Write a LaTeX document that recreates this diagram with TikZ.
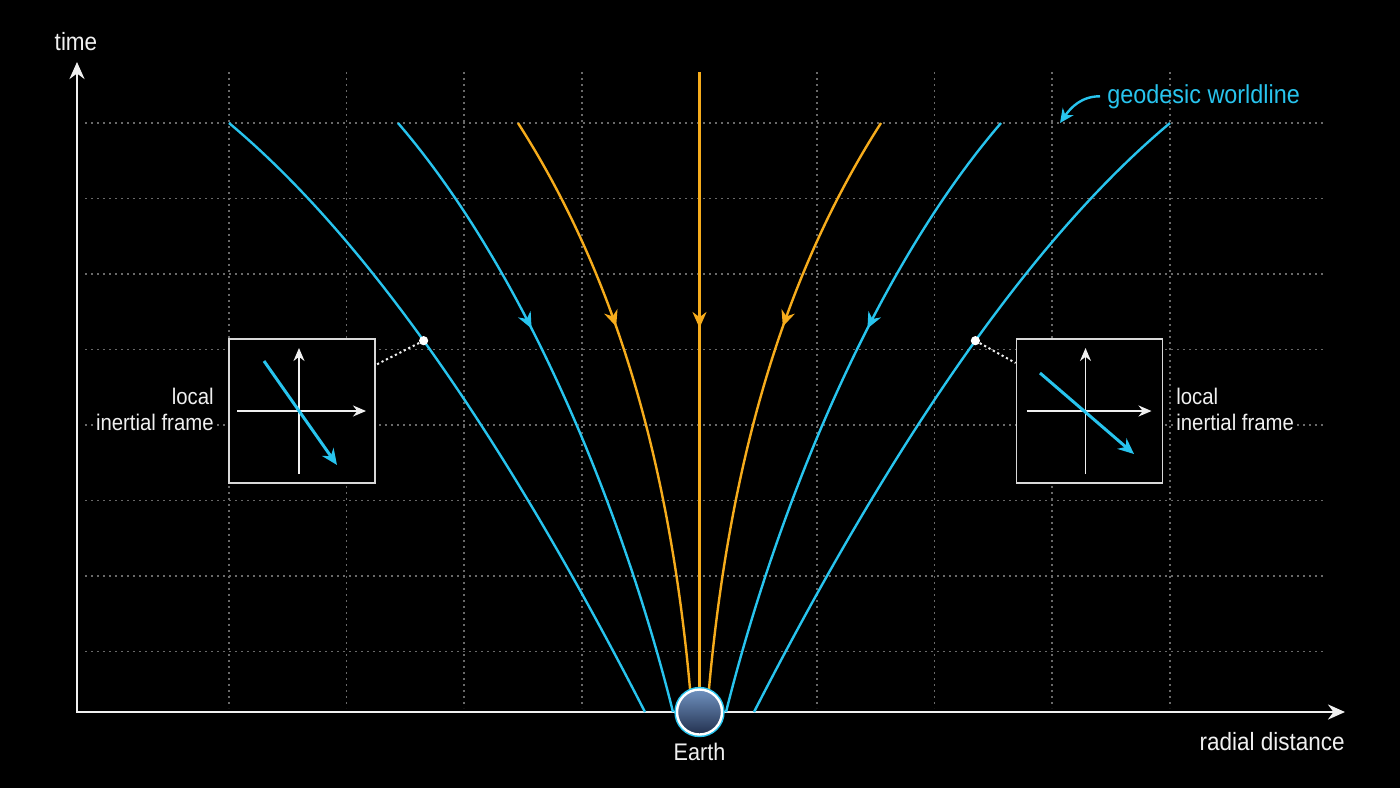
\documentclass[tikz,border=0pt]{standalone}
\usepackage{fontspec}
\setmainfont{Liberation Sans}[FakeStretch=0.9]
\usetikzlibrary{arrows.meta, decorations.markings}

\definecolor{geoblue}{RGB}{40,196,238}
\definecolor{geoorange}{RGB}{246,172,28}
\definecolor{gridgray}{RGB}{105,105,105}
\definecolor{earthtop}{RGB}{112,146,192}
\definecolor{earthbot}{RGB}{34,48,78}
\definecolor{textwhite}{RGB}{240,240,240}

\begin{document}
\begin{tikzpicture}[x=0.5pt, y=-0.5pt,
    gridline/.style={gridgray, line width=0.75pt, dash pattern=on 0.75pt off 2.25pt},
    axis/.style={textwhite, line width=1.4pt, {Stealth[length=8.5pt,width=7.5pt]}-{Stealth[length=8.5pt,width=7.5pt]}},
    lbl/.style={text=textwhite, inner sep=0pt, font=\fontsize{12.5}{15}\selectfont},
    worldline/.style={line width=1.2pt},
    midarrow/.style={postaction={decorate}, decoration={markings,
        mark=at position #1 with {\arrow{Stealth[length=8pt,width=7pt]}}}},
    inertialbox/.style={draw=textwhite!90!black, fill=black, line width=0.9pt,
        minimum width=73pt, minimum height=72pt, inner sep=0pt},
    framelbl/.style={lbl, fill=black, inner sep=1.5pt, font=\fontsize{11.3}{13}\selectfont},
    insetaxis/.style={textwhite, line width=0.9pt, -{Stealth[length=6.5pt,width=5.5pt]}},
    insetvel/.style={geoblue, line width=1.5pt, -{Stealth[length=8pt,width=7pt]}},
    linkdots/.style={textwhite, line width=1pt, dash pattern=on 1.1pt off 1.4pt},
    earth/.style={circle, minimum size=22.5pt, inner sep=0pt, top color=earthtop,
        bottom color=earthbot, draw=white, line width=1.2pt},
]
    % background and page size
    \fill[black] (0,0) rectangle (1400,788);
    \useasboundingbox (0,0) rectangle (1400,788);

    % grid
    \foreach \gy in {123,198.5,...,652}
        \draw[gridline] (85,\gy) -- (1323,\gy);
    \foreach \gx in {229,346.6,...,1171}
        \draw[gridline] (\gx,72) -- (\gx,708);

    % axes
    \coordinate (ytip)   at (77,62);
    \coordinate (origin) at (77,712);
    \coordinate (xtip)   at (1345,712);
    \draw[axis] (ytip) -- (origin) -- (xtip);
    \node[lbl, anchor=base]      (tlbl) at (76,50)    {time};
    \node[lbl, anchor=base east] (rlbl) at (1345,750) {radial distance};

    % worldlines, left half
    \draw[worldline, geoblue] (229,123) .. controls (364,236) and (502,433) .. (645,712)
        coordinate[pos=0.475] (dotL);
    \draw[worldline, geoblue, midarrow=0.375] (398,123) .. controls (527,273) and (623,512) .. (673,712);
    \draw[worldline, geoorange, midarrow=0.365] (518,123) .. controls (614,273) and (672,462) .. (692,712);
    % radial infall
    \draw[worldline, geoorange, midarrow=0.4] (699.5,72) -- (699.5,712);
    % worldlines, right half
    \draw[worldline, geoorange, midarrow=0.365] (881,123) .. controls (785,273) and (727,462) .. (707,712);
    \draw[worldline, geoblue, midarrow=0.375] (1001,123) .. controls (872,273) and (776,512) .. (726,712);
    \draw[worldline, geoblue] (1170,123) .. controls (1035,236) and (897,433) .. (754,712)
        coordinate[pos=0.475] (dotR);

    % earth
    \fill[geoblue] (699.5,712) circle (12.6pt);
    \node[earth] (earth) at (699.5,712) {};
    \node[lbl, anchor=base, font=\fontsize{12}{14}\selectfont] (earthlbl) at (699.5,760) {Earth};

    % local inertial frames
    \node[inertialbox] (boxL) at (302,411) {};
    \node[inertialbox] (boxR) at (1089.5,411) {};
    \begin{scope}[shift={(boxL.center)}]
        \draw[insetaxis] (-3,63) -- (-3,-63);
        \draw[insetaxis] (-65,0) -- (64,0);
        \draw[insetvel] (-38,-50) -- (35,54);
    \end{scope}
    \begin{scope}[shift={(boxR.center)}]
        \draw[insetaxis] (-4,63) -- (-4,-63);
        \draw[insetaxis] (-63,0) -- (62,0);
        \draw[insetvel] (-49.5,-38) -- (44.5,43);
    \end{scope}
    \draw[linkdots] (dotL) -- (boxL.32);
    \draw[linkdots] (dotR) -- (boxR.147);
    \fill[white] (dotL) circle (2.3pt);
    \fill[white] (dotR) circle (2.3pt);
    \node[framelbl, anchor=east, align=right] (frameLlbl) at (217,409) {local\\inertial frame};
    \node[framelbl, anchor=west, align=left]  (frameRlbl) at (1173,409) {local\\inertial frame};

    % label for the worldlines
    \node[lbl, text=geoblue, anchor=base west, font=\fontsize{13}{15}\selectfont] (geolbl) at (1107,103)
        {geodesic worldline};
    \coordinate (geotip) at (1060,123);
    \draw[geoblue, line width=1.2pt, -{Stealth[length=7pt,width=6.5pt]}]
        ([xshift=-3.5pt]geolbl.west) to[out=180, in=55] (geotip);
\end{tikzpicture}
\end{document}
